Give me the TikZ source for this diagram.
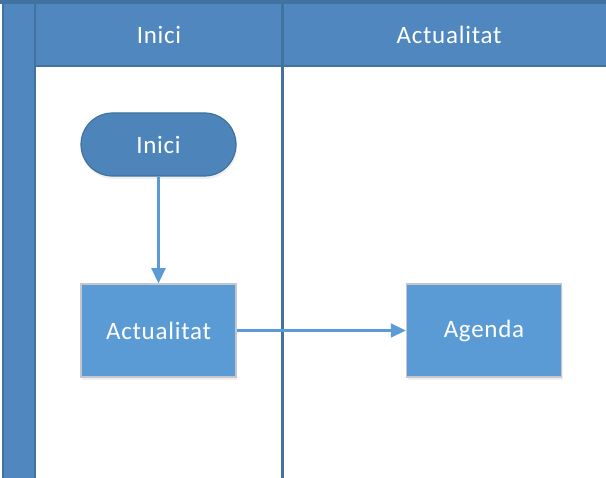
\documentclass[tikz,border=0pt]{standalone}
\usepackage{fontspec}
\setmainfont{Carlito}[LetterSpace=3]
\usetikzlibrary{arrows.meta,shadows}
\definecolor{poolfill}{RGB}{79,135,190}
\definecolor{poolline}{RGB}{66,114,160}
\definecolor{startfill}{RGB}{77,133,187}
\definecolor{startline}{RGB}{65,113,156}
\definecolor{procfill}{RGB}{91,155,213}
\definecolor{procline}{RGB}{196,200,206}
\definecolor{flowline}{RGB}{91,155,213}
\tikzset{
  x=1pt, y=-1pt,
  lbl/.style={font=\fontsize{25}{30}\selectfont, text=white},
  band/.style={fill=poolfill, draw=poolline, line width=2pt},
  startbox/.style={lbl, draw=startline, fill=startfill, line width=1.2pt,
    minimum width=155pt, minimum height=63pt, rounded corners=31.5pt,
    drop shadow={opacity=0.12, shadow xshift=1pt, shadow yshift=-3pt}},
  procbox/.style={lbl, draw=procline, fill=procfill, line width=1.5pt,
    minimum width=155pt, minimum height=93pt,
    drop shadow={opacity=0.12, shadow xshift=1pt, shadow yshift=-3pt}},
  flow/.style={draw=flowline, line width=2.2pt,
    -{Triangle[length=15pt,width=14pt]}},
}
\begin{document}
\begin{tikzpicture}
\useasboundingbox (0,0) rectangle (606,478);
\begin{scope}
\clip (0,0) rectangle (606,478);
% pool title strip
\fill[poolline] (-5,-20) rectangle (620,4);
% vertical pool band
\draw[band] (2.5,3) rectangle (34.5,490);
% lane header
\draw[band] (34.5,3) rectangle (620,66);
% lane divider
\draw[poolline, line width=2.5pt] (282.5,3) -- (282.5,490);
\end{scope}
% header labels
\node[lbl] (h1) at (159,35) {Inici};
\node[lbl] (h2) at (449,35) {Actualitat};
% flow shapes
\node[startbox] (inici) at (158.5,144.5) {Inici};
\node[procbox] (act) at (158.5,330.5) {Actualitat};
\node[procbox] (agenda) at (484,330.5) {Agenda};
% connectors
\draw[flow] (inici) -- (act);
\draw[flow] (act) -- (agenda);
\end{tikzpicture}
\end{document}
